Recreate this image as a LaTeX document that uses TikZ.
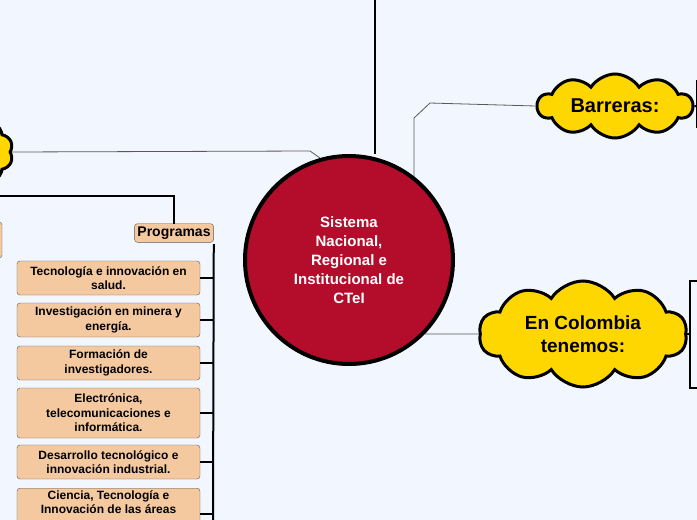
\documentclass[tikz,border=0pt]{standalone}
\usepackage{fontspec}
\setmainfont{Liberation Sans}
\usetikzlibrary{shapes.symbols}
\definecolor{bgblue}{HTML}{F2F6FF}
\definecolor{crimson}{HTML}{B30D2B}
\definecolor{gold}{HTML}{FFD700}
\definecolor{peach}{HTML}{F5C9A0}
\begin{document}
\begin{tikzpicture}[x=1pt,y=-1pt,
  topic/.style = {cloud, cloud puffs=10, cloud puff arc=115, cloud ignores aspect, draw, line width=3pt, fill=gold, font=\bfseries, align=center, inner sep=0pt},
  item/.style = {draw=gray!70!black, rounded corners=3pt, fill=peach, font=\bfseries\fontsize{12}{14.5}\selectfont, align=center, minimum width=183pt, inner sep=2pt},
  thin/.style = {draw=gray!70!black, line width=0.8pt},
  thick/.style = {draw=black, line width=2pt}]
\fill[bgblue] (0,0) rectangle (697,520);
\useasboundingbox (0,0) rectangle (697,520);
\coordinate (top) at (375,0);
\coordinate (c0) at (414,180);
\coordinate (c1) at (414,118);
\coordinate (c2) at (430,103);
\coordinate (c3) at (310,151);
\coordinate (c4) at (320,158);
\coordinate (c5) at (425,334);
\coordinate (l1) at (0,196);
\coordinate (l2) at (174,196);
\coordinate (v1) at (213,244);
\coordinate (v2) at (213,520);
\node[topic, minimum width=155pt, minimum height=64pt, font=\bfseries\fontsize{20}{22}\selectfont] (barreras) at (615,106) {Barreras:};
\node[topic, minimum width=208pt, minimum height=106pt, font=\bfseries\fontsize{19}{23}\selectfont] (colombia) at (583,334) {En Colombia\\tenemos:};
\node[topic, minimum width=90pt, minimum height=70pt] (left) at (-32,152) {};
% lines behind the circle
\draw[thin] (left.east) -- (c3) -- (c4);
\draw[thin] (c0) -- (c1) -- (c2) -- (barreras.west);
\draw[thin] (c5) -- (colombia.west);
\node[circle, draw, line width=4pt, fill=crimson, minimum size=208pt, text=white, font=\bfseries\fontsize{15}{19}\selectfont, align=center] (center) at (349,260) {Sistema\\Nacional,\\Regional e\\Institucional de\\CTeI};
\node[draw=gray!70!black, rounded corners=3pt, fill=peach, font=\bfseries\fontsize{14}{16}\selectfont, inner sep=3pt] (prog) at (174,233) {Programas};
\node[draw=gray!70!black, rounded corners=3pt, fill=peach, minimum width=20pt, minimum height=36pt] (cut) at (-8,240) {};
\node[item, minimum height=34pt] (p1) at (108.5,278) {Tecnología e innovación en\\salud.};
\node[item, minimum height=34pt] (p2) at (108.5,320) {Investigación en minera y\\energía.};
\node[item, minimum height=34pt] (p3) at (108.5,363) {Formación de\\investigadores.};
\node[item, minimum height=50pt] (p4) at (108.5,413) {Electrónica,\\telecomunicaciones e\\informática.};
\node[item, minimum height=34pt] (p5) at (108.5,462) {Desarrollo tecnológico e\\innovación industrial.};
\node[item, minimum height=50pt, anchor=north, align=center, text depth=24pt] (p6) at (108.5,488) {Ciencia, Tecnología e\\Innovación de las áreas};
\draw[thick] (top) -- (center.north -| top);
\draw[thick] (barreras.east) -- (697,106);
\draw[thick] (697,80) -- (697,128);
\draw[thick] (colombia.east) -- (690,334);
\draw[thick] (697,281) -| (690,388) -- (697,388);
\draw[thick] (l1) -- (l2) -- (prog.north);
\draw[thick] (prog.east |- v1) -- (v2);
\foreach \n in {p1,p2,p3,p4,p5,p6}
  \draw[thick] (\n.east) -- (\n.east -| v1);
\end{tikzpicture}
\end{document}
